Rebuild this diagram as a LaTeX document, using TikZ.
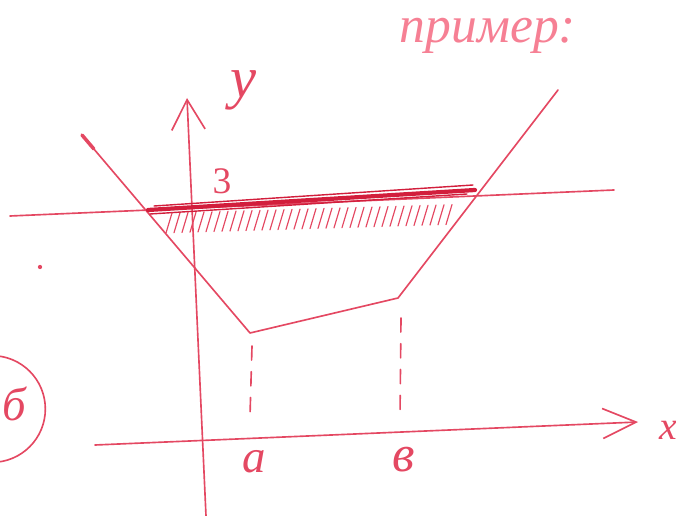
\documentclass[tikz,border=0pt]{standalone}
\usepackage{fontspec}
\setmainfont{Liberation Serif}
\usepackage{tikz}
\usetikzlibrary{arrows.meta,positioning,calc}
\usepackage{xcolor}
\definecolor{ink}{RGB}{228,72,98}
\definecolor{inkdark}{RGB}{210,30,60}
\definecolor{inklight}{RGB}{246,128,148}

\begin{document}
\begin{tikzpicture}[x=0.03cm, y=-0.03cm, line cap=round, line join=round,
  pen/.style={draw=ink, line width=1.4pt},
  hand/.style={text=ink, inner sep=0pt, font=\itshape\fontsize{40}{40}\selectfont}]

  \useasboundingbox (0,0) rectangle (676,516);
  \clip (0,0) rectangle (676,516);

  % Define nodes
  \coordinate (yB) at (206,516);
  \coordinate (yT) at (187,98);
  \coordinate (xL) at (95,445);
  \coordinate (xR) at (638,422);
  \coordinate (hL) at (10,216);
  \coordinate (hR) at (614,190);
  \coordinate (f0) at (82,135);
  \coordinate (fA) at (250,333);
  \coordinate (fB) at (398,298);
  \coordinate (f1) at (558,90);
  \coordinate (tL) at (148,210);
  \coordinate (tR) at (475,190);
  \coordinate (dA1) at (252,346);
  \coordinate (dA2) at (250,416);
  \coordinate (dB1) at (401,318);
  \coordinate (dB2) at (400,416);
  \node (ylab) at (243,90) [hand, font=\itshape\fontsize{50}{50}\selectfont] {y};
  \node (xlab) at (668,430) [hand, font=\itshape\fontsize{34}{34}\selectfont] {x};
  \node (three) at (222,181) [hand, font=\fontsize{32}{32}\selectfont] {3};
  \node (alab) at (254,462) [hand] {a};
  \node (blab) at (404,460) [hand, font=\itshape\fontsize{44}{44}\selectfont] {в};
  \node (title) at (488,36) [text=inklight, inner sep=0pt, font=\itshape\fontsize{44}{44}\selectfont] {пример:};
  \node (circ) at (-8,409) [pen, circle, minimum size=3.2cm, inner sep=0pt] {};
  \node (blet) at (14,404) [hand] {б};
  \node (spot) at (40,267) [fill=ink, circle, inner sep=1.3pt] {};

  % Draw arrows
  \draw[pen, -{Straight Barb[length=9mm, width=10mm]}] (yB) -- (yT);
  \draw[pen, -{Straight Barb[length=10mm, width=9mm]}] (xL) -- (xR);
  \draw[pen] (hL) -- (hR);

  % Graph of the function
  \draw[pen] (f0) -- (fA) -- (fB) -- (f1);
  \draw[ink, line width=3pt] (f0) -- ($(f0)!0.07!(fA)$);
  \draw[pen, dash pattern=on 12 off 10] (dA1) -- (dA2);
  \draw[pen, dash pattern=on 12 off 10] (dB1) -- (dB2);

  % Level and hatching
  \draw[inkdark, line width=3.6pt] (tL) -- (tR);
  \draw[inkdark, line width=1.2pt] ($(tL)+(6,-4)$) -- ($(tR)+(-2,-5)$);
  \draw[inkdark, line width=1.2pt] ($(tL)+(2,4)$) -- ($(tR)+(-8,4)$);
  \foreach \x in {166,174,...,452} {
    \pgfmathsetmacro{\dy}{(\x-165)*0.03}
    \draw[ink, line width=1pt] (\x,233-\dy) -- (\x+6,213-\dy);
  }
\end{tikzpicture}
\end{document}
